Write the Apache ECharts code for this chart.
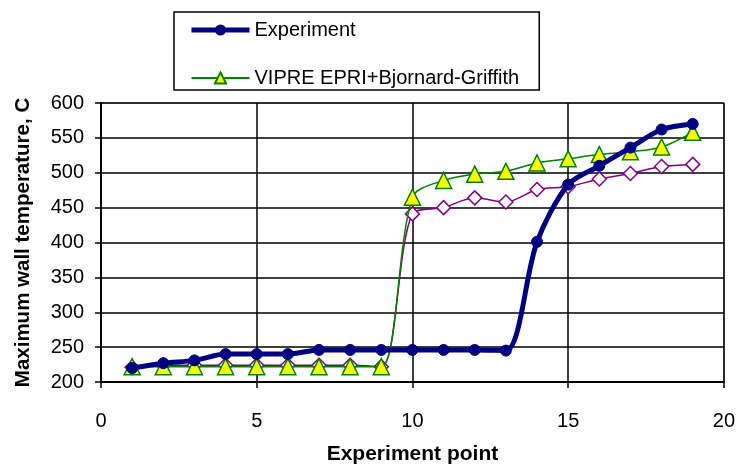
<!DOCTYPE html>
<html>
<head>
<meta charset="utf-8">
<script src="https://cdn.jsdelivr.net/npm/echarts@6/dist/echarts.min.js"></script>
<style>
html,body{margin:0;padding:0;background:#fff;}
#chart{width:738px;height:470px;}
</style>
</head>
<body>
<div id="chart"></div>
<script>
const xPoints = [1,2,3,4,5,6,7,8,9,10,11,12,13,14,15,16,17,18,19];
const experiment = [220,227,231,240,240,240,246,246,246,246,246,246,245,401,483,510,536,562,570];
const vipreBG = [222,222,222,222,222,222,222,222,222,465,489,498,502,514,520,526,530,537,558];
const vipreOther = [221,224,224,224,224,224,224,224,222,441,450,464,458,476,480,491,499,509,512];
const xTicks = [0,5,10,15,20];
const yTicks = [200,250,300,350,400,450,500,550,600];

const pair = (ys) => xPoints.map((x, i) => [x, ys[i]]);
const font = 'Liberation Sans, Arial, sans-serif';

const chart = echarts.init(document.getElementById('chart'), null, {renderer: 'canvas'});
chart.setOption({
  animation: false,
  backgroundColor: '#ffffff',
  grid: {left: 101, right: 13, top: 103, bottom: 86, show: true, borderColor: '#999999', borderWidth: 1.5, backgroundColor: 'transparent'},
  legend: {
    data: [
      {name: 'Experiment', lineStyle: {width: 5}},
      {name: 'VIPRE EPRI+Bjornard-Griffith'}
    ],
    orient: 'vertical',
    left: 174, top: 12,
    itemWidth: 58, itemHeight: 14, itemGap: 28,
    padding: [8, 20, 2, 15],
    borderColor: '#000', borderWidth: 1.5,
    textStyle: {fontFamily: font, fontSize: 20, color: '#000'}
  },
  xAxis: {
    type: 'value', min: xTicks[0], max: xTicks[xTicks.length - 1], interval: 5,
    name: 'Experiment point', nameLocation: 'middle', nameGap: 62,
    nameTextStyle: {fontFamily: font, fontSize: 21, fontWeight: 'bold', color: '#000'},
    axisLine: {lineStyle: {color: '#000', width: 2}},
    axisTick: {show: true, length: 6, lineStyle: {color: '#000', width: 1.5}},
    axisLabel: {fontFamily: font, fontSize: 20, color: '#000', margin: 29},
    splitLine: {show: true, lineStyle: {color: '#000', width: 1.5}}
  },
  yAxis: {
    type: 'value', min: yTicks[0], max: yTicks[yTicks.length - 1], interval: 50,
    name: 'Maximum wall temperature, C', nameLocation: 'middle', nameGap: 67,
    nameTextStyle: {fontFamily: font, fontSize: 20.5, fontWeight: 'bold', color: '#000'},
    axisLine: {lineStyle: {color: '#000', width: 2}},
    axisTick: {show: true, length: 6, lineStyle: {color: '#000', width: 1.5}},
    axisLabel: {fontFamily: font, fontSize: 20, color: '#000', margin: 17},
    splitLine: {show: true, lineStyle: {color: '#000', width: 1.5}}
  },
  series: [
    {
      name: 'VIPRE (other)', type: 'line', data: pair(vipreOther), smooth: 0.3,
      symbol: 'diamond', symbolSize: 14,
      lineStyle: {color: '#800080', width: 1.5},
      itemStyle: {color: '#ffffff', borderColor: '#800080', borderWidth: 1.5},
      z: 3
    },
    {
      name: 'VIPRE EPRI+Bjornard-Griffith', type: 'line', data: pair(vipreBG), smooth: 0.3,
      symbol: 'triangle', symbolSize: 16,
      lineStyle: {color: '#008000', width: 1.5},
      itemStyle: {color: '#ffff00', borderColor: '#008000', borderWidth: 1.5},
      z: 4
    },
    {
      name: 'Experiment', type: 'line', data: pair(experiment), smooth: 0.3,
      symbol: 'circle', symbolSize: 11,
      lineStyle: {color: '#000080', width: 5},
      itemStyle: {color: '#000080', borderColor: '#000080'},
      z: 5
    }
  ]
});
</script>
</body>
</html>
